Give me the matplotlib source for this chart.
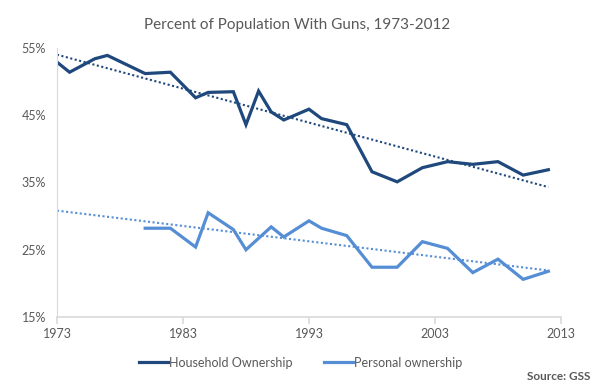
import numpy as np
import matplotlib.pyplot as plt

plt.rcParams['font.family'] = ['Lato', 'DejaVu Sans']

# household gun ownership (GSS), percent
hh_years = [1973, 1974, 1976, 1977, 1980, 1982, 1984, 1985, 1987, 1988, 1989,
            1990, 1991, 1993, 1994, 1996, 1998, 2000, 2002, 2004, 2006, 2008,
            2010, 2012]
hh_pct = [52.9, 51.4, 53.4, 53.9, 51.2, 51.4, 47.6, 48.4, 48.5, 43.6, 48.6,
          45.5, 44.3, 45.9, 44.5, 43.6, 36.6, 35.1, 37.2, 38.1, 37.7, 38.1,
          36.1, 36.9]

# personal gun ownership
pers_years = [1980, 1982, 1984, 1985, 1987, 1988, 1990, 1991, 1993, 1994,
              1996, 1998, 2000, 2002, 2004, 2006, 2008, 2010, 2012]
pers_pct = [28.2, 28.2, 25.4, 30.5, 28.0, 25.0, 28.4, 26.9, 29.3, 28.2,
            27.1, 22.4, 22.4, 26.2, 25.2, 21.6, 23.6, 20.6, 21.8]

dark = '#1F487C'
light = '#558ED5'
grey = '#595959'

fig = plt.figure(figsize=(6.01, 3.91), dpi=100)
ax = fig.add_axes([0.0948, 0.1893, 0.8386, 0.6879])

ax.plot(hh_years, hh_pct, color=dark, lw=2.3, solid_joinstyle='miter',
        label='Household Ownership')
ax.plot(pers_years, pers_pct, color=light, lw=2.3, solid_joinstyle='miter',
        label='Personal ownership')

# linear trend lines
tx = np.array([1973, 2012])
p1 = np.poly1d(np.polyfit(hh_years, hh_pct, 1))
p2 = np.poly1d(np.polyfit(pers_years, pers_pct, 1))
ax.plot(tx, p1(tx), color=dark, lw=1.5, ls=(0, (1, 1.2)))
ax.plot(tx, p2(tx), color=light, lw=1.5, ls=(0, (1, 1.2)))

ax.set_xlim(1973, 2013)
ax.set_ylim(15, 55)
ax.set_xticks([1973, 1983, 1993, 2003, 2013])
ax.set_yticks([15, 25, 35, 45, 55])
ax.set_yticklabels(['15%', '25%', '35%', '45%', '55%'])

for s in ['top', 'right']:
    ax.spines[s].set_visible(False)
ax.spines['left'].set_color('#D9D9D9')
ax.spines['bottom'].set_color('#D9D9D9')
ax.spines['bottom'].set_linewidth(1.2)
ax.tick_params(axis='x', colors='#D9D9D9', length=5, width=1.2, labelcolor=grey,
               labelsize=9, pad=3)
ax.tick_params(axis='y', length=0, labelcolor=grey, labelsize=9, pad=8)

fig.text(0.495, 0.935, 'Percent of Population With Guns, 1973-2012', ha='center',
         va='center', fontsize=11, color=grey)

fig.legend(loc='center', bbox_to_anchor=(0.5, 0.072), ncol=2, frameon=False,
           fontsize=9, handlelength=2.3, handletextpad=0.1, columnspacing=2.5,
           labelcolor=grey)

fig.text(0.983, 0.038, 'Source: GSS', ha='right', va='center', fontsize=8.5,
         color=grey, fontweight='bold')

fig.savefig('out.png', dpi=100)
